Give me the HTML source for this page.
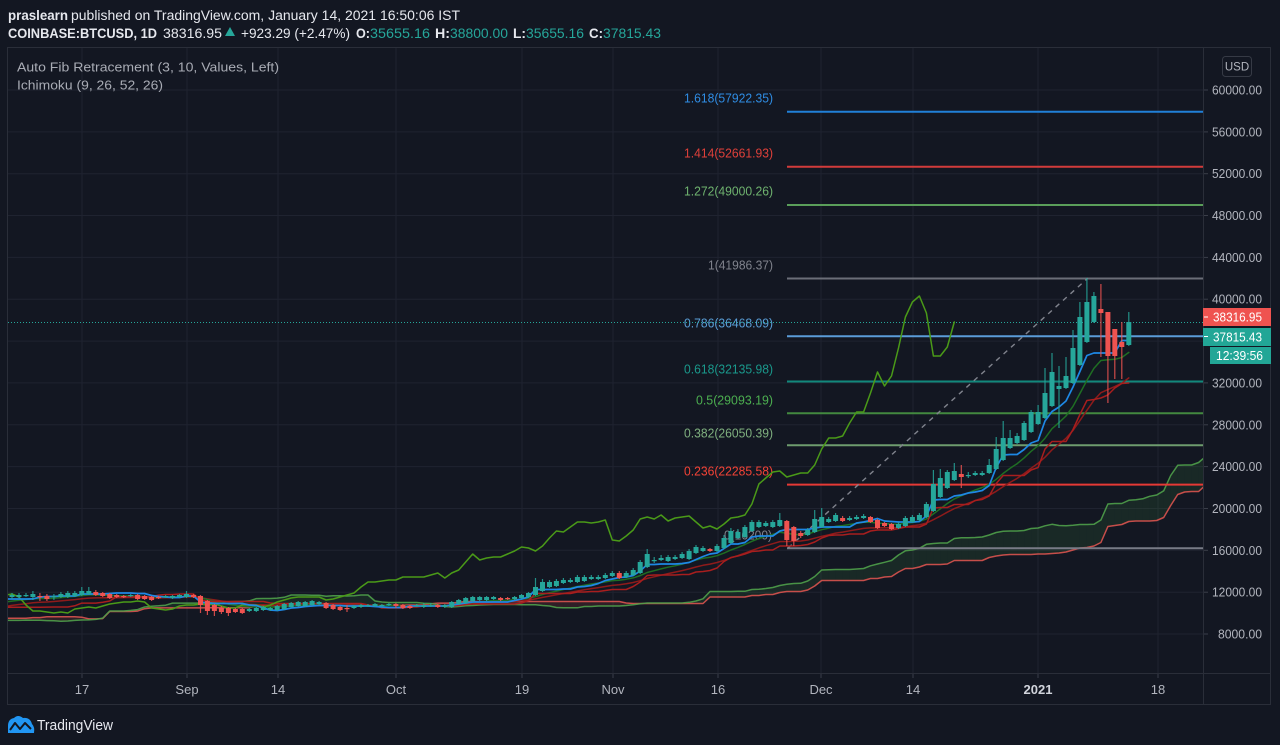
<!DOCTYPE html>
<html><head><meta charset="utf-8"><style>
html,body{margin:0;padding:0;background:#131722;width:1280px;height:745px;overflow:hidden}
svg{display:block}
text{font-family:"Liberation Sans",Arial,sans-serif}
</style></head><body>
<svg id="s" width="1280" height="745" viewBox="0 0 1280 745" xmlns="http://www.w3.org/2000/svg">
<defs><clipPath id="cp"><rect x="8" y="48" width="1195" height="625"/></clipPath></defs>
<rect width="1280" height="745" fill="#131722"/>
<!-- header -->
<text x="8" y="20" font-size="13.5" font-weight="bold" fill="#e6e8ee" textLength="60" lengthAdjust="spacingAndGlyphs">praslearn</text>
<text x="71" y="20" font-size="13.5" fill="#e6e8ee" textLength="389" lengthAdjust="spacingAndGlyphs">published on TradingView.com, January 14, 2021 16:50:06 IST</text>
<text x="8" y="38" font-size="13.5" font-weight="bold" fill="#e6e8ee" textLength="149" lengthAdjust="spacingAndGlyphs">COINBASE:BTCUSD, 1D</text>
<text x="163" y="38" font-size="13.5" fill="#e6e8ee" textLength="59" lengthAdjust="spacingAndGlyphs">38316.95</text>
<polygon points="225,36 230,27 235,36" fill="#26a69a"/>
<text x="241" y="38" font-size="13.5" fill="#e6e8ee" textLength="109" lengthAdjust="spacingAndGlyphs">+923.29 (+2.47%)</text>
<text x="356" y="38" font-size="13.5" font-weight="bold" fill="#e6e8ee" textLength="14" lengthAdjust="spacingAndGlyphs">O:</text>
<text x="370" y="38" font-size="13.5" fill="#26a69a" textLength="60" lengthAdjust="spacingAndGlyphs">35655.16</text>
<text x="435" y="38" font-size="13.5" font-weight="bold" fill="#e6e8ee" textLength="15" lengthAdjust="spacingAndGlyphs">H:</text>
<text x="450" y="38" font-size="13.5" fill="#26a69a" textLength="58" lengthAdjust="spacingAndGlyphs">38800.00</text>
<text x="513" y="38" font-size="13.5" font-weight="bold" fill="#e6e8ee" textLength="13" lengthAdjust="spacingAndGlyphs">L:</text>
<text x="526" y="38" font-size="13.5" fill="#26a69a" textLength="58" lengthAdjust="spacingAndGlyphs">35655.16</text>
<text x="589" y="38" font-size="13.5" font-weight="bold" fill="#e6e8ee" textLength="14" lengthAdjust="spacingAndGlyphs">C:</text>
<text x="603" y="38" font-size="13.5" fill="#26a69a" textLength="58" lengthAdjust="spacingAndGlyphs">37815.43</text>

<!-- grid -->
<g stroke="#1f2330" stroke-width="1">
<line x1="8" y1="90" x2="1203" y2="90"/><line x1="8" y1="131.9" x2="1203" y2="131.9"/>
<line x1="8" y1="173.7" x2="1203" y2="173.7"/><line x1="8" y1="215.5" x2="1203" y2="215.5"/>
<line x1="8" y1="257.4" x2="1203" y2="257.4"/><line x1="8" y1="299.2" x2="1203" y2="299.2"/>
<line x1="8" y1="341.1" x2="1203" y2="341.1"/><line x1="8" y1="382.9" x2="1203" y2="382.9"/>
<line x1="8" y1="424.8" x2="1203" y2="424.8"/><line x1="8" y1="466.6" x2="1203" y2="466.6"/>
<line x1="8" y1="508.5" x2="1203" y2="508.5"/><line x1="8" y1="550.3" x2="1203" y2="550.3"/>
<line x1="8" y1="592.2" x2="1203" y2="592.2"/><line x1="8" y1="634" x2="1203" y2="634"/>
<line x1="82" y1="48" x2="82" y2="673"/><line x1="187" y1="48" x2="187" y2="673"/>
<line x1="278" y1="48" x2="278" y2="673"/><line x1="396" y1="48" x2="396" y2="673"/>
<line x1="522" y1="48" x2="522" y2="673"/><line x1="613" y1="48" x2="613" y2="673"/>
<line x1="718" y1="48" x2="718" y2="673"/><line x1="821" y1="48" x2="821" y2="673"/>
<line x1="913" y1="48" x2="913" y2="673"/><line x1="1038" y1="48" x2="1038" y2="673"/>
<line x1="1158" y1="48" x2="1158" y2="673"/>
</g>

<g id="cloud" clip-path="url(#cp)"></g>

<!-- fib levels -->
<g stroke-width="2">
<line x1="787" y1="111.7" x2="1203" y2="111.7" stroke="#2180d8"/>
<line x1="787" y1="166.8" x2="1203" y2="166.8" stroke="#d23b3b"/>
<line x1="787" y1="205" x2="1203" y2="205" stroke="#5a9e5a"/>
<line x1="787" y1="278.5" x2="1203" y2="278.5" stroke="#6b6e78"/>
<line x1="787" y1="336.2" x2="1203" y2="336.2" stroke="#5b9cd8"/>
<line x1="787" y1="381.5" x2="1203" y2="381.5" stroke="#12887c"/>
<line x1="787" y1="413.3" x2="1203" y2="413.3" stroke="#43893f"/>
<line x1="787" y1="445.2" x2="1203" y2="445.2" stroke="#6e9c6e"/>
<line x1="787" y1="484.6" x2="1203" y2="484.6" stroke="#e53935"/>
<line x1="787" y1="548.2" x2="1203" y2="548.2" stroke="#787b86"/>
</g>
<line x1="788" y1="548" x2="1088" y2="278" stroke="#80838d" stroke-width="1.4" stroke-dasharray="5,5"/>
<g font-size="13" lengthAdjust="spacingAndGlyphs">
<text x="684" y="102.5" fill="#2f8de4" textLength="89" lengthAdjust="spacingAndGlyphs">1.618(57922.35)</text>
<text x="684" y="157.5" fill="#e0403a" textLength="89" lengthAdjust="spacingAndGlyphs">1.414(52661.93)</text>
<text x="684" y="195.5" fill="#6fb36f" textLength="89" lengthAdjust="spacingAndGlyphs">1.272(49000.26)</text>
<text x="708" y="269.5" fill="#80838d" textLength="65" lengthAdjust="spacingAndGlyphs">1(41986.37)</text>
<text x="684" y="327.5" fill="#5a9fd8" textLength="89" lengthAdjust="spacingAndGlyphs">0.786(36468.09)</text>
<text x="684" y="373.5" fill="#1a998c" textLength="89" lengthAdjust="spacingAndGlyphs">0.618(32135.98)</text>
<text x="696" y="404.5" fill="#4caf50" textLength="77" lengthAdjust="spacingAndGlyphs">0.5(29093.19)</text>
<text x="684" y="437.5" fill="#7fb07f" textLength="89" lengthAdjust="spacingAndGlyphs">0.382(26050.39)</text>
<text x="684" y="475.5" fill="#f44336" textLength="89" lengthAdjust="spacingAndGlyphs">0.236(22285.58)</text>
<text x="724" y="539.5" fill="#80838d" textLength="48" lengthAdjust="spacingAndGlyphs">0(16200)</text>
</g>

<line x1="8" y1="322.5" x2="1203" y2="322.5" stroke="#26a69a" stroke-width="1" stroke-dasharray="1,2"/>

<g id="lines" clip-path="url(#cp)"></g>
<g id="candles" clip-path="url(#cp)"></g>

<!-- legend -->
<text x="17" y="71.5" font-size="13" fill="#a9acb5" textLength="262" lengthAdjust="spacingAndGlyphs">Auto Fib Retracement (3, 10, Values, Left)</text>
<text x="17" y="89.5" font-size="13" fill="#a9acb5" textLength="146" lengthAdjust="spacingAndGlyphs">Ichimoku (9, 26, 52, 26)</text>

<!-- frame -->
<g stroke="#2a2e39" stroke-width="1" fill="none">
<rect x="7.5" y="47.5" width="1263" height="657"/>
<line x1="1203.5" y1="47.5" x2="1203.5" y2="705"/>
<line x1="7.5" y1="673.5" x2="1271" y2="673.5"/>
</g>
<g stroke="#3a3e49" stroke-width="1">
<line x1="82" y1="674" x2="82" y2="678"/><line x1="187" y1="674" x2="187" y2="678"/>
<line x1="278" y1="674" x2="278" y2="678"/><line x1="396" y1="674" x2="396" y2="678"/>
<line x1="522" y1="674" x2="522" y2="678"/><line x1="613" y1="674" x2="613" y2="678"/>
<line x1="718" y1="674" x2="718" y2="678"/><line x1="821" y1="674" x2="821" y2="678"/>
<line x1="913" y1="674" x2="913" y2="678"/><line x1="1038" y1="674" x2="1038" y2="678"/>
<line x1="1158" y1="674" x2="1158" y2="678"/>
<line x1="1204" y1="90" x2="1208" y2="90"/><line x1="1204" y1="131.9" x2="1208" y2="131.9"/>
<line x1="1204" y1="173.7" x2="1208" y2="173.7"/><line x1="1204" y1="215.5" x2="1208" y2="215.5"/>
<line x1="1204" y1="257.4" x2="1208" y2="257.4"/><line x1="1204" y1="299.2" x2="1208" y2="299.2"/>
<line x1="1204" y1="382.9" x2="1208" y2="382.9"/><line x1="1204" y1="424.8" x2="1208" y2="424.8"/>
<line x1="1204" y1="466.6" x2="1208" y2="466.6"/><line x1="1204" y1="508.5" x2="1208" y2="508.5"/>
<line x1="1204" y1="550.3" x2="1208" y2="550.3"/><line x1="1204" y1="592.2" x2="1208" y2="592.2"/>
<line x1="1204" y1="634" x2="1208" y2="634"/>
</g>

<!-- price axis labels -->
<g font-size="13" fill="#b2b5be">
<text x="1212" y="94.5" textLength="50" lengthAdjust="spacingAndGlyphs">60000.00</text>
<text x="1212" y="136.4" textLength="50" lengthAdjust="spacingAndGlyphs">56000.00</text>
<text x="1212" y="178.2" textLength="50" lengthAdjust="spacingAndGlyphs">52000.00</text>
<text x="1212" y="220" textLength="50" lengthAdjust="spacingAndGlyphs">48000.00</text>
<text x="1212" y="261.9" textLength="50" lengthAdjust="spacingAndGlyphs">44000.00</text>
<text x="1212" y="303.7" textLength="50" lengthAdjust="spacingAndGlyphs">40000.00</text>
<text x="1212" y="387.4" textLength="50" lengthAdjust="spacingAndGlyphs">32000.00</text>
<text x="1212" y="429.3" textLength="50" lengthAdjust="spacingAndGlyphs">28000.00</text>
<text x="1212" y="471.1" textLength="50" lengthAdjust="spacingAndGlyphs">24000.00</text>
<text x="1212" y="513" textLength="50" lengthAdjust="spacingAndGlyphs">20000.00</text>
<text x="1212" y="554.8" textLength="50" lengthAdjust="spacingAndGlyphs">16000.00</text>
<text x="1212" y="596.7" textLength="50" lengthAdjust="spacingAndGlyphs">12000.00</text>
<text x="1218" y="638.5" textLength="44" lengthAdjust="spacingAndGlyphs">8000.00</text>
</g>
<rect x="1222.5" y="56.5" width="29" height="20" rx="3" fill="none" stroke="#363a45"/>
<text x="1237" y="70.5" font-size="11.5" fill="#b2b5be" text-anchor="middle">USD</text>

<!-- badges -->
<rect x="1203" y="308" width="68" height="18" fill="#ef5350"/>
<line x1="1204" y1="317" x2="1208" y2="317" stroke="#fff"/>
<text x="1213" y="321.5" font-size="13" fill="#ffffff" textLength="49" lengthAdjust="spacingAndGlyphs">38316.95</text>
<rect x="1203" y="328" width="68" height="18" fill="#22a696"/>
<line x1="1204" y1="336.5" x2="1208" y2="336.5" stroke="#fff"/>
<text x="1213" y="341.5" font-size="13" fill="#ffffff" textLength="49" lengthAdjust="spacingAndGlyphs">37815.43</text>
<rect x="1210" y="347" width="61" height="17" fill="#22a696"/>
<text x="1216" y="360" font-size="13" fill="#ffffff" textLength="47" lengthAdjust="spacingAndGlyphs">12:39:56</text>

<!-- time axis labels -->
<g font-size="13" fill="#b2b5be" text-anchor="middle">
<text x="82" y="694">17</text><text x="187" y="694">Sep</text><text x="278" y="694">14</text>
<text x="396" y="694">Oct</text><text x="522" y="694">19</text><text x="613" y="694">Nov</text>
<text x="718" y="694">16</text><text x="821" y="694">Dec</text><text x="913" y="694">14</text>
<text x="1038" y="694" font-weight="bold" fill="#d1d4dc">2021</text><text x="1158" y="694">18</text>
</g>

<!-- logo -->
<path d="M8,733 L8,726 Q8,719 14,718 Q18,714 23,718 Q30,717 32,724 Q35,727 34,733 Z" fill="#2196f3"/>
<polyline points="10,730 15,723 20,729 25,723 31,729" fill="none" stroke="#131722" stroke-width="2" stroke-linejoin="round"/>
<text x="37" y="730" font-size="15" fill="#e6e8ee" textLength="76" lengthAdjust="spacingAndGlyphs">TradingView</text>
</svg>
<script>
(function(){
const M=[
[597,595,593,599],[597,595,593,598],[596,595,593,597],[597,594,591,600],[596,597,593,601],[596,599,594,601],[597,596,594,600],[597,594,592,598],[597,593,591,598],[596,593,591,597],
[595,591,587,596],[594,591,587,595],[592,595,590,596],[593,596,592,597],[594,598,593,599],[595,597,594,598],[596,597,595,598],[596,595,594,597],[595,599,594,600],[596,599,595,600],
[597,600,596,601],[597,598,596,599],[597,596,595,598],[598,596,595,599],[597,595,594,598],[597,594,591,598],[595,597,594,598],[596,605,595,613],[601,611,600,615],[605,611,604,616],
[608,612,606,614],[608,613,607,616],[609,612,608,613],[609,613,608,614],[611,609,608,612],[611,608,607,612],[610,607,606,611],[610,608,607,611],[610,606,605,611],[609,604,603,610],
[607,603,602,608],[606,602,601,607],[606,602,601,607],[605,601,600,606],[604,602,601,605],[603,608,602,609],[605,609,604,610],[607,610,606,611],[608,609,605,612],[608,606,605,609],
[607,605,604,608],[606,605,604,607],[606,604,603,607],[606,605,604,607],[605,604,603,606],[604,606,603,608],[605,608,604,609],[606,608,605,609],[606,605,604,607],[607,605,603,608],
[606,605,603,607],[605,607,604,608],[607,605,604,608],[607,602,601,608],[604,600,599,605],[603,598,597,604],[601,597,596,602],[600,597,596,601],[600,597,596,601],[599,597,596,600],
[598,600,597,601],[598,599,597,600],[599,597,596,600],[598,595,594,599],[597,593,592,598],[595,587,578,596],[591,582,579,592],[587,582,580,588],[586,581,579,587],[583,580,578,584],
[582,580,578,583],[582,577,575,583],[581,577,575,582],[579,577,575,580],[579,577,575,580],[578,575,573,579],[576,573,571,577],[573,578,571,579],[577,573,571,578],[575,570,568,576],
[573,562,560,574],[567,554,549,568],[561,560,557,563],[560,558,555,561],[561,557,555,562],[559,557,555,560],[558,554,552,559],[559,551,549,560],[553,547,545,554],[551,548,546,552],
[549,551,548,552],[551,546,544,552],[548,538,535,549],[543,531,528,544],[538,532,529,539],[537,527,525,538],[531,522,520,532],[527,522,520,528],[526,523,521,527],[527,522,520,528],
[526,520,513,527],[521,540,520,546],[527,541,526,546],[533,536,531,538],[535,530,528,536],[532,519,510,533],[527,517,508,528],[522,519,517,523],[521,515,513,522],[518,521,516,522],
[520,518,516,521],[519,517,515,520],[518,516,514,519],[517,522,516,523],[520,528,519,529],[523,526,522,527],[524,529,523,530],[528,524,522,529],[526,518,516,527],[522,517,515,523],
[520,515,513,521],[517,504,502,518],[511,484,470,512],[497,478,469,498],[488,472,470,489],[480,471,463,481],[474,477,465,488],[476,475,472,478],[475,473,471,476],[475,473,471,476],
[473,465,459,474],[469,449,437,470],[460,438,421,461],[448,438,430,449],[443,436,433,444],[440,423,421,441],[432,412,410,433],[424,412,405,425],[418,393,368,419],[406,372,353,407],
[389,386,366,428],[388,376,357,389],[383,348,330,384],[365,317,302,366],[342,302,278,343],[322,296,292,323],[309,313,284,357],[312,356,312,403],[329,356,329,379],[342,347,322,379],
[345,322,312,346]];
const preC=[9300,9380,9670,9730,9780,9510,9060,9170,9180,8720,8900,8840,9200,9570,9430,9700,9450,
10200,9520,9660,9800,9660,9650,9760,9780,9770,9880,9320,9470,9470,9340,9430,9520,9460,9410,9290,9350,9290,9680,9620,9290,9250,9160,9010,9120,9190,9140,
9230,9090,9060,9130,9070,9340,9250,9430,9230,9290,9240,9300,9240,9250,9190,9130,9150,9170,9210,9160,9390,9530,9600,9540,9700,9930,11030,10930,11100,11110,11350,
11800,11070,11230,11190,11750,11770];
const P=p=>90+(60000-p)*0.010462;
const X=k=>12+6.98*k;
const D=[];
for(let i=0;i<preC.length;i++){
  const c=preC[i],o=i?preC[i-1]:9250;
  let h=Math.max(o,c)*1.012,l=Math.min(o,c)*0.988;
  if(i==17)h=10400; if(i==73)h=11400; if(i==79){h=12100;l=10600;}
  D.push([P(o),P(c),P(h),P(l)]);
}
const OFF=D.length;
M.forEach(m=>D.push(m));
const N=D.length;
function mid(i,n){let hi=1e9,lo=-1e9;for(let j=Math.max(0,i-n+1);j<=i;j++){hi=Math.min(hi,D[j][2]);lo=Math.max(lo,D[j][3]);}return (hi+lo)/2;}
const T=[],KJ=[],A=[],B=[];
for(let i=0;i<N;i++){T[i]=mid(i,9);KJ[i]=mid(i,26);A[i]=(T[i]+KJ[i])/2;B[i]=mid(i,52);}
function ema(n){const r=[];let e=D[0][1];const a=2/(n+1);for(let i=0;i<N;i++){e=e+(D[i][1]-e)*a;r.push(e);}return r;}
const EG=ema(13),ER=ema(22);
function pl(pts,col,w,op){return '<polyline points="'+pts.map(p=>p[0].toFixed(1)+','+p[1].toFixed(1)).join(' ')+'" fill="none" stroke="'+col+'" stroke-width="'+w+'" stroke-linejoin="round" stroke-linecap="round"'+(op?' stroke-opacity="'+op+'"':'')+'/>';}
let cs='';const SA=[],SB=[];
for(let i=OFF-30;i<N;i++){const x=X(i-OFF+25);if(x>1230)break;SA.push([x,A[i]]);SB.push([x,B[i]]);}
for(let j=0;j<SA.length-1;j++){
  const a1=SA[j],a2=SA[j+1],b1=SB[j],b2=SB[j+1];
  const g=(a1[1]+a2[1])<(b1[1]+b2[1]);
  cs+='<polygon points="'+a1[0].toFixed(1)+','+a1[1].toFixed(1)+' '+a2[0].toFixed(1)+','+a2[1].toFixed(1)+' '+b2[0].toFixed(1)+','+b2[1].toFixed(1)+' '+b1[0].toFixed(1)+','+b1[1].toFixed(1)+'" fill="'+(g?'rgba(67,160,71,0.13)':'rgba(239,83,80,0.13)')+'" stroke="none"/>';
}
cs+=pl(SB,'#d9534f',1.5,0.9);
cs+=pl(SA,'#4fa04a',1.5,0.9);
document.getElementById('cloud').innerHTML=cs;
let ls='';
const LG=[];for(let i=OFF+20;i<N;i++)LG.push([X(i-OFF-25),D[i][1]]);
const tp=[],kp=[],gp=[],rp=[];
for(let i=OFF-3;i<N;i++){const x=X(i-OFF);tp.push([x,T[i]]);kp.push([x,KJ[i]]);gp.push([x,EG[i]]);rp.push([x,ER[i]]);}
ls+=pl(rp,'#8e1b1b',1.5);
ls+=pl(gp,'#1f6e23',1.5);
ls+=pl(kp,'#a81e1e',1.5);
ls+=pl(LG,'#4a9a18',1.5);
ls+=pl(tp,'#1e88e5',1.7);
document.getElementById('lines').innerHTML=ls;
let c='';
for(let k=0;k<M.length;k++){
  const [o,cl,h,l]=M[k];const x=X(k);
  const up=cl<o;const col=up?'#26a69a':'#ef5350';
  const top=Math.min(o,cl),hh=Math.max(1.2,Math.abs(o-cl));
  c+='<line x1="'+x.toFixed(1)+'" y1="'+h+'" x2="'+x.toFixed(1)+'" y2="'+l+'" stroke="'+col+'" stroke-width="1.2" stroke-opacity="0.85"/>';
  c+='<rect x="'+(x-2.5).toFixed(1)+'" y="'+top+'" width="5" height="'+hh+'" fill="'+col+'"/>';
}
document.getElementById('candles').innerHTML=c;
})();
</script>
</body></html>
